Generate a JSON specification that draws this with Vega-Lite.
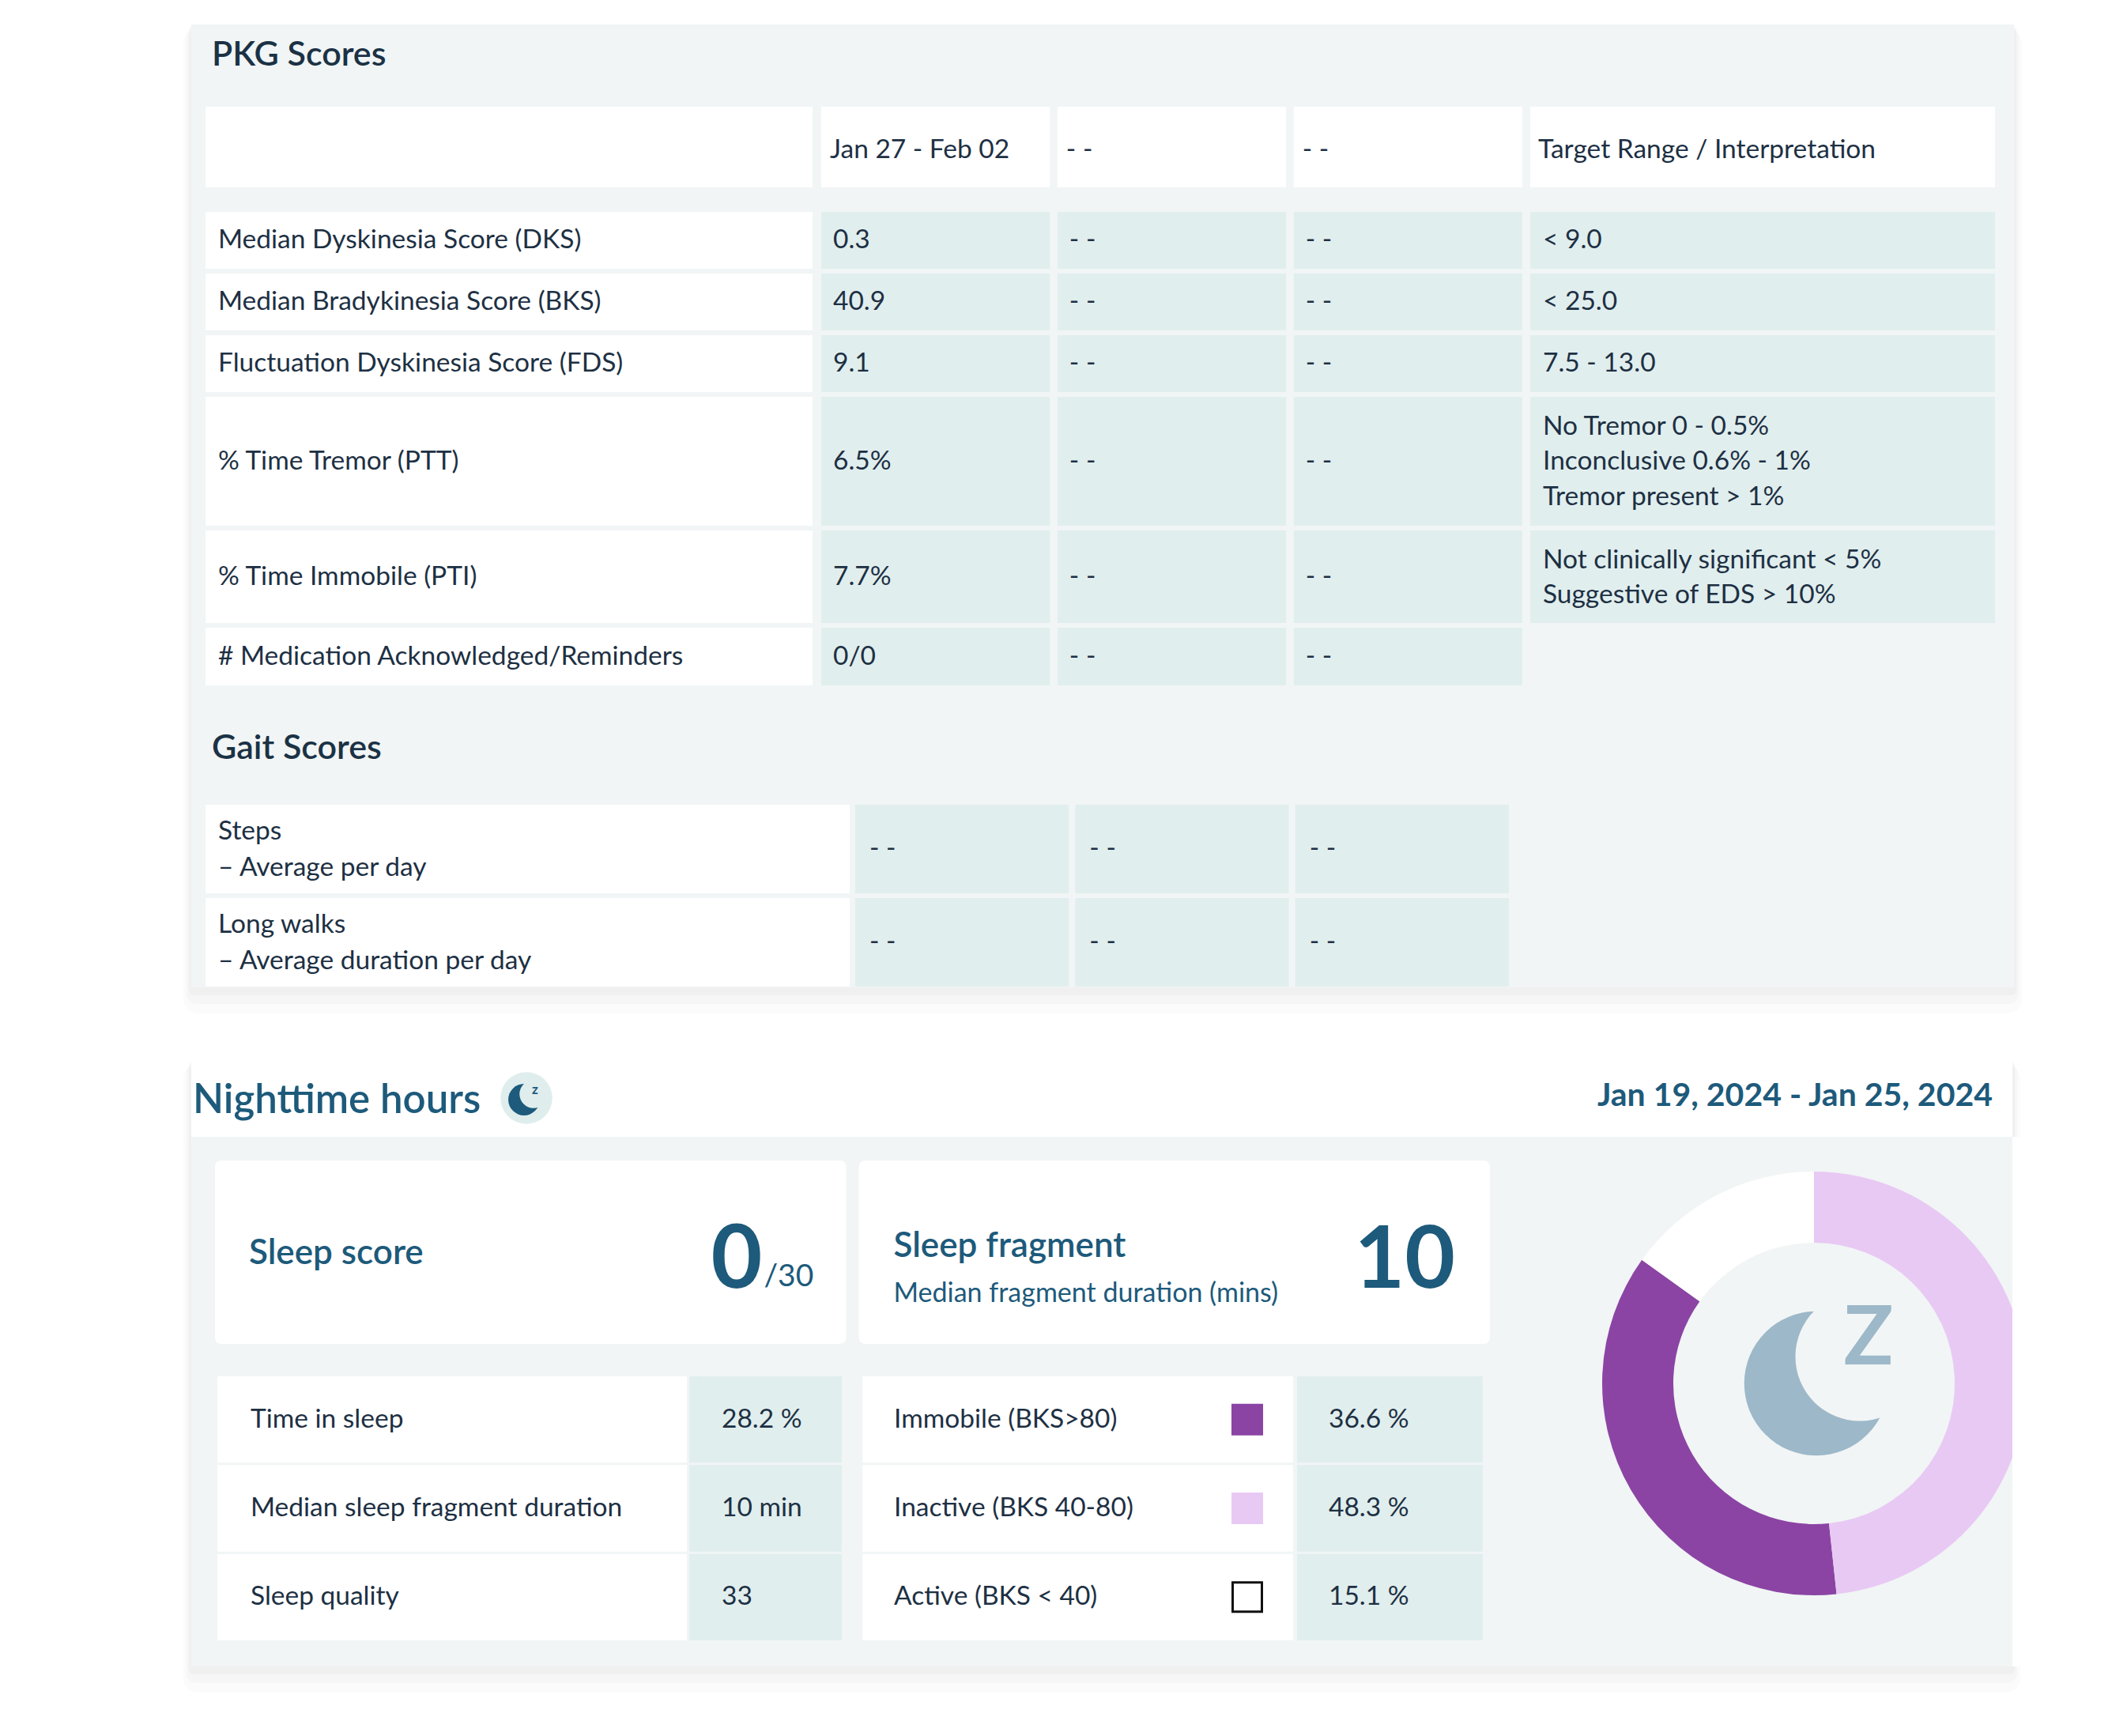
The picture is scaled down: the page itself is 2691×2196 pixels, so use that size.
{
  "$schema": "https://vega.github.io/schema/vega-lite/v6.json",
  "width": 2691,
  "height": 2196,
  "autosize": {"type": "none"},
  "padding": 0,
  "background": "#ffffff",
  "config": {
    "view": {"stroke": null},
    "axis": {"disable": true},
    "legend": {"disable": true},
    "font": "Lato",
    "text": {"font": "Lato", "fontSize": 33.5, "color": "#1d3043", "align": "left", "baseline": "middle"}
  },
  "datasets": {
    "cards": [
      {"card": "PKG Scores"},
      {"card": "Nighttime hours", "period": "Jan 19, 2024 - Jan 25, 2024"}
    ],
    "sections": [
      {"section": "PKG Scores"},
      {"section": "Gait Scores"}
    ],
    "pkgHeader": [
      {"row": "header", "column": "label", "text": ""},
      {"row": "header", "column": "p1", "text": "Jan 27 - Feb 02"},
      {"row": "header", "column": "p2", "text": "- -"},
      {"row": "header", "column": "p3", "text": "- -"},
      {"row": "header", "column": "target", "text": "Target Range / Interpretation"}
    ],
    "pkgRows": [
      {"table": "PKG Scores", "metric": "Median Dyskinesia Score (DKS)", "target": "< 9.0"},
      {"table": "PKG Scores", "metric": "Median Bradykinesia Score (BKS)", "target": "< 25.0"},
      {"table": "PKG Scores", "metric": "Fluctuation Dyskinesia Score (FDS)", "target": "7.5 - 13.0"},
      {"table": "PKG Scores", "metric": "% Time Tremor (PTT)", "target": "No Tremor 0 - 0.5%\nInconclusive 0.6% - 1%\nTremor present > 1%"},
      {"table": "PKG Scores", "metric": "% Time Immobile (PTI)", "target": "Not clinically significant < 5%\nSuggestive of EDS > 10%"},
      {"table": "PKG Scores", "metric": "# Medication Acknowledged/Reminders", "target": ""}
    ],
    "pkgValues": [
      {"metric": "Median Dyskinesia Score (DKS)", "column": "p1", "value": "0.3"},
      {"metric": "Median Dyskinesia Score (DKS)", "column": "p2", "value": "- -"},
      {"metric": "Median Dyskinesia Score (DKS)", "column": "p3", "value": "- -"},
      {"metric": "Median Bradykinesia Score (BKS)", "column": "p1", "value": "40.9"},
      {"metric": "Median Bradykinesia Score (BKS)", "column": "p2", "value": "- -"},
      {"metric": "Median Bradykinesia Score (BKS)", "column": "p3", "value": "- -"},
      {"metric": "Fluctuation Dyskinesia Score (FDS)", "column": "p1", "value": "9.1"},
      {"metric": "Fluctuation Dyskinesia Score (FDS)", "column": "p2", "value": "- -"},
      {"metric": "Fluctuation Dyskinesia Score (FDS)", "column": "p3", "value": "- -"},
      {"metric": "% Time Tremor (PTT)", "column": "p1", "value": "6.5%"},
      {"metric": "% Time Tremor (PTT)", "column": "p2", "value": "- -"},
      {"metric": "% Time Tremor (PTT)", "column": "p3", "value": "- -"},
      {"metric": "% Time Immobile (PTI)", "column": "p1", "value": "7.7%"},
      {"metric": "% Time Immobile (PTI)", "column": "p2", "value": "- -"},
      {"metric": "% Time Immobile (PTI)", "column": "p3", "value": "- -"},
      {"metric": "# Medication Acknowledged/Reminders", "column": "p1", "value": "0/0"},
      {"metric": "# Medication Acknowledged/Reminders", "column": "p2", "value": "- -"},
      {"metric": "# Medication Acknowledged/Reminders", "column": "p3", "value": "- -"}
    ],
    "gaitRows": [
      {"table": "Gait Scores", "metric": "Steps\n– Average per day"},
      {"table": "Gait Scores", "metric": "Long walks\n– Average duration per day"}
    ],
    "gaitValues": [
      {"metric": "Steps\n– Average per day", "column": "p1", "value": "- -"},
      {"metric": "Steps\n– Average per day", "column": "p2", "value": "- -"},
      {"metric": "Steps\n– Average per day", "column": "p3", "value": "- -"},
      {"metric": "Long walks\n– Average duration per day", "column": "p1", "value": "- -"},
      {"metric": "Long walks\n– Average duration per day", "column": "p2", "value": "- -"},
      {"metric": "Long walks\n– Average duration per day", "column": "p3", "value": "- -"}
    ],
    "kpis": [
      {"panel": "summary", "kpi": "Sleep score", "value": "0", "outOf": "/30"},
      {"panel": "summary", "kpi": "Sleep fragment", "note": "Median fragment duration (mins)", "value": "10"}
    ],
    "sleep": [
      {"table": "Sleep", "measure": "Time in sleep", "value": "28.2 %"},
      {"table": "Sleep", "measure": "Median sleep fragment duration", "value": "10 min"},
      {"table": "Sleep", "measure": "Sleep quality", "value": "33"}
    ],
    "bks": [
      {"table": "BKS", "state": "Immobile (BKS>80)", "share": 36.6, "shown": "36.6 %"},
      {"table": "BKS", "state": "Inactive (BKS 40-80)", "share": 48.3, "shown": "48.3 %"},
      {"table": "BKS", "state": "Active (BKS < 40)", "share": 15.1, "shown": "15.1 %"}
    ]
  },
  "resolve": {"scale": {"x": "independent", "y": "independent", "color": "independent", "stroke": "independent", "theta": "independent"}},
  "layer": [
    {
      "data": {"name": "cards"},
      "transform": [{"filter": "datum.card == 'PKG Scores'"}],
      "mark": {"type": "rect", "color": "#000000", "opacity": 0.014, "cornerRadius": 18},
      "encoding": {
        "x": {"field": "card", "type": "nominal", "scale": {"type": "band", "range": [232, 2558], "paddingInner": 0, "paddingOuter": 0}},
        "y": {"field": "card", "type": "nominal", "scale": {"type": "band", "range": [37, 1282], "paddingInner": 0, "paddingOuter": 0}}
      }
    },
    {
      "data": {"name": "cards"},
      "transform": [{"filter": "datum.card == 'PKG Scores'"}],
      "mark": {"type": "rect", "color": "#000000", "opacity": 0.018, "cornerRadius": 12},
      "encoding": {
        "x": {"field": "card", "type": "nominal", "scale": {"type": "band", "range": [236, 2554], "paddingInner": 0, "paddingOuter": 0}},
        "y": {"field": "card", "type": "nominal", "scale": {"type": "band", "range": [34, 1270], "paddingInner": 0, "paddingOuter": 0}}
      }
    },
    {
      "data": {"name": "cards"},
      "transform": [{"filter": "datum.card == 'PKG Scores'"}],
      "mark": {"type": "rect", "color": "#000000", "opacity": 0.022, "cornerRadius": 6},
      "encoding": {
        "x": {"field": "card", "type": "nominal", "scale": {"type": "band", "range": [239, 2551], "paddingInner": 0, "paddingOuter": 0}},
        "y": {"field": "card", "type": "nominal", "scale": {"type": "band", "range": [32, 1259], "paddingInner": 0, "paddingOuter": 0}}
      }
    },
    {
      "data": {"name": "cards"},
      "transform": [{"filter": "datum.card == 'Nighttime hours'"}],
      "mark": {"type": "rect", "color": "#000000", "opacity": 0.014, "cornerRadius": 18},
      "encoding": {
        "x": {"field": "card", "type": "nominal", "scale": {"type": "band", "range": [232, 2556], "paddingInner": 0, "paddingOuter": 0}},
        "y": {"field": "card", "type": "nominal", "scale": {"type": "band", "range": [1347, 2141], "paddingInner": 0, "paddingOuter": 0}}
      }
    },
    {
      "data": {"name": "cards"},
      "transform": [{"filter": "datum.card == 'Nighttime hours'"}],
      "mark": {"type": "rect", "color": "#000000", "opacity": 0.018, "cornerRadius": 12},
      "encoding": {
        "x": {"field": "card", "type": "nominal", "scale": {"type": "band", "range": [236, 2552], "paddingInner": 0, "paddingOuter": 0}},
        "y": {"field": "card", "type": "nominal", "scale": {"type": "band", "range": [1344, 2129], "paddingInner": 0, "paddingOuter": 0}}
      }
    },
    {
      "data": {"name": "cards"},
      "transform": [{"filter": "datum.card == 'Nighttime hours'"}],
      "mark": {"type": "rect", "color": "#000000", "opacity": 0.022, "cornerRadius": 6},
      "encoding": {
        "x": {"field": "card", "type": "nominal", "scale": {"type": "band", "range": [239, 2549], "paddingInner": 0, "paddingOuter": 0}},
        "y": {"field": "card", "type": "nominal", "scale": {"type": "band", "range": [1342, 2118], "paddingInner": 0, "paddingOuter": 0}}
      }
    },
    {
      "data": {"name": "cards"},
      "transform": [{"filter": "datum.card == 'PKG Scores'"}],
      "mark": {"type": "rect", "color": "#f1f5f5"},
      "encoding": {
        "x": {"field": "card", "type": "nominal", "scale": {"type": "band", "range": [242, 2548], "paddingInner": 0, "paddingOuter": 0}},
        "y": {"field": "card", "type": "nominal", "scale": {"type": "band", "range": [31, 1249], "paddingInner": 0, "paddingOuter": 0}}
      }
    },
    {
      "data": {"name": "cards"},
      "transform": [{"filter": "datum.card == 'Nighttime hours'"}],
      "mark": {"type": "rect", "color": "#ffffff"},
      "encoding": {
        "x": {"field": "card", "type": "nominal", "scale": {"type": "band", "range": [242, 2546], "paddingInner": 0, "paddingOuter": 0}},
        "y": {"field": "card", "type": "nominal", "scale": {"type": "band", "range": [1341, 2108], "paddingInner": 0, "paddingOuter": 0}}
      }
    },
    {
      "data": {"name": "cards"},
      "transform": [{"filter": "datum.card == 'Nighttime hours'"}],
      "mark": {"type": "rect", "color": "#f1f5f5"},
      "encoding": {
        "x": {"field": "card", "type": "nominal", "scale": {"type": "band", "range": [242, 2546], "paddingInner": 0, "paddingOuter": 0}},
        "y": {"field": "card", "type": "nominal", "scale": {"type": "band", "range": [1438, 2108], "paddingInner": 0, "paddingOuter": 0}}
      }
    },
    {
      "data": {"name": "sections"},
      "mark": {"type": "text", "fontSize": 43, "fontWeight": 600, "color": "#1b3245", "baseline": "alphabetic"},
      "encoding": {
        "x": {"field": "section", "type": "nominal", "scale": {"type": "point", "range": [268, 268], "padding": 0}},
        "y": {"field": "section", "type": "nominal", "sort": null, "scale": {"type": "point", "range": [83, 960], "padding": 0}},
        "text": {"field": "section"}
      }
    },
    {
      "data": {"name": "pkgHeader"},
      "transform": [{"filter": "datum.column == 'label'"}],
      "mark": {"type": "rect", "color": "#ffffff"},
      "encoding": {
        "x": {"field": "column", "type": "nominal", "scale": {"type": "band", "range": [260, 1028], "paddingInner": 0, "paddingOuter": 0}},
        "y": {"field": "row", "type": "nominal", "scale": {"type": "band", "range": [135, 237], "paddingInner": 0, "paddingOuter": 0}}
      }
    },
    {
      "data": {"name": "pkgHeader"},
      "transform": [{"filter": {"field": "column", "oneOf": ["p1", "p2", "p3"]}}],
      "encoding": {
        "y": {"field": "row", "type": "nominal", "scale": {"type": "band", "range": [135, 237], "paddingInner": 0, "paddingOuter": 0}}
      },
      "layer": [
        {
          "mark": {"type": "rect", "color": "#ffffff"},
          "encoding": {"x": {"field": "column", "type": "nominal", "sort": null, "scale": {"type": "band", "range": [1039, 1926], "paddingInner": 0.032, "paddingOuter": 0}}}
        },
        {
          "mark": {"type": "text", "dx": 11, "dy": 4},
          "encoding": {
            "x": {"field": "column", "type": "nominal", "sort": null, "bandPosition": 0, "scale": {"type": "band", "range": [1039, 1926], "paddingInner": 0.032, "paddingOuter": 0}},
            "text": {"field": "text"}
          }
        }
      ]
    },
    {
      "data": {"name": "pkgHeader"},
      "transform": [{"filter": "datum.column == 'target'"}],
      "encoding": {
        "y": {"field": "row", "type": "nominal", "scale": {"type": "band", "range": [135, 237], "paddingInner": 0, "paddingOuter": 0}}
      },
      "layer": [
        {
          "mark": {"type": "rect", "color": "#ffffff"},
          "encoding": {"x": {"field": "column", "type": "nominal", "scale": {"type": "band", "range": [1936, 2524], "paddingInner": 0, "paddingOuter": 0}}}
        },
        {
          "mark": {"type": "text", "dx": 10, "dy": 4},
          "encoding": {
            "x": {"field": "column", "type": "nominal", "bandPosition": 0, "scale": {"type": "band", "range": [1936, 2524], "paddingInner": 0, "paddingOuter": 0}},
            "text": {"field": "text"}
          }
        }
      ]
    },
    {
      "data": {"name": "pkgRows"},
      "transform": [{"filter": {"field": "metric", "oneOf": ["Median Dyskinesia Score (DKS)", "Median Bradykinesia Score (BKS)", "Fluctuation Dyskinesia Score (FDS)"]}}],
      "encoding": {
        "y": {"field": "metric", "type": "nominal", "sort": null, "scale": {"type": "band", "range": [268, 496], "paddingInner": 0.077, "paddingOuter": 0}}
      },
      "layer": [
        {
          "mark": {"type": "rect", "color": "#ffffff"},
          "encoding": {"x": {"field": "table", "type": "nominal", "scale": {"type": "band", "range": [260, 1028], "paddingInner": 0, "paddingOuter": 0}}}
        },
        {
          "mark": {"type": "text", "dx": 16},
          "encoding": {
            "x": {"field": "table", "type": "nominal", "bandPosition": 0, "scale": {"type": "band", "range": [260, 1028], "paddingInner": 0, "paddingOuter": 0}},
            "text": {"field": "metric"}
          }
        },
        {
          "mark": {"type": "rect", "color": "#e1eeee"},
          "encoding": {"x": {"field": "table", "type": "nominal", "scale": {"type": "band", "range": [1936, 2524], "paddingInner": 0, "paddingOuter": 0}}}
        },
        {
          "mark": {"type": "text", "dx": 16},
          "encoding": {
            "x": {"field": "table", "type": "nominal", "bandPosition": 0, "scale": {"type": "band", "range": [1936, 2524], "paddingInner": 0, "paddingOuter": 0}},
            "text": {"field": "target"}
          }
        }
      ],
      "resolve": {"scale": {"x": "independent"}}
    },
    {
      "data": {"name": "pkgValues"},
      "transform": [{"filter": {"field": "metric", "oneOf": ["Median Dyskinesia Score (DKS)", "Median Bradykinesia Score (BKS)", "Fluctuation Dyskinesia Score (FDS)"]}}],
      "encoding": {
        "y": {"field": "metric", "type": "nominal", "sort": null, "scale": {"type": "band", "range": [268, 496], "paddingInner": 0.077, "paddingOuter": 0}},
        "x": {"field": "column", "type": "nominal", "sort": null, "scale": {"type": "band", "range": [1039, 1926], "paddingInner": 0.032, "paddingOuter": 0}}
      },
      "layer": [
        {"mark": {"type": "rect", "color": "#e1eeee"}},
        {
          "mark": {"type": "text", "dx": 15},
          "encoding": {
            "x": {"field": "column", "type": "nominal", "sort": null, "bandPosition": 0, "scale": {"type": "band", "range": [1039, 1926], "paddingInner": 0.032, "paddingOuter": 0}},
            "text": {"field": "value"}
          }
        }
      ]
    },
    {
      "data": {"name": "pkgRows"},
      "transform": [{"filter": {"field": "metric", "equal": "% Time Tremor (PTT)"}}],
      "encoding": {
        "y": {"field": "metric", "type": "nominal", "scale": {"type": "band", "range": [502, 665], "paddingInner": 0, "paddingOuter": 0}}
      },
      "layer": [
        {
          "mark": {"type": "rect", "color": "#ffffff"},
          "encoding": {"x": {"field": "table", "type": "nominal", "scale": {"type": "band", "range": [260, 1028], "paddingInner": 0, "paddingOuter": 0}}}
        },
        {
          "mark": {"type": "text", "dx": 16},
          "encoding": {
            "x": {"field": "table", "type": "nominal", "bandPosition": 0, "scale": {"type": "band", "range": [260, 1028], "paddingInner": 0, "paddingOuter": 0}},
            "text": {"field": "metric"}
          }
        },
        {
          "mark": {"type": "rect", "color": "#e1eeee"},
          "encoding": {"x": {"field": "table", "type": "nominal", "scale": {"type": "band", "range": [1936, 2524], "paddingInner": 0, "paddingOuter": 0}}}
        },
        {
          "mark": {"type": "text", "dx": 16, "dy": -44, "lineBreak": "\n", "lineHeight": 44.5},
          "encoding": {
            "x": {"field": "table", "type": "nominal", "bandPosition": 0, "scale": {"type": "band", "range": [1936, 2524], "paddingInner": 0, "paddingOuter": 0}},
            "text": {"field": "target"}
          }
        }
      ],
      "resolve": {"scale": {"x": "independent"}}
    },
    {
      "data": {"name": "pkgValues"},
      "transform": [{"filter": {"field": "metric", "equal": "% Time Tremor (PTT)"}}],
      "encoding": {
        "y": {"field": "metric", "type": "nominal", "scale": {"type": "band", "range": [502, 665], "paddingInner": 0, "paddingOuter": 0}},
        "x": {"field": "column", "type": "nominal", "sort": null, "scale": {"type": "band", "range": [1039, 1926], "paddingInner": 0.032, "paddingOuter": 0}}
      },
      "layer": [
        {"mark": {"type": "rect", "color": "#e1eeee"}},
        {
          "mark": {"type": "text", "dx": 15},
          "encoding": {
            "x": {"field": "column", "type": "nominal", "sort": null, "bandPosition": 0, "scale": {"type": "band", "range": [1039, 1926], "paddingInner": 0.032, "paddingOuter": 0}},
            "text": {"field": "value"}
          }
        }
      ]
    },
    {
      "data": {"name": "pkgRows"},
      "transform": [{"filter": {"field": "metric", "equal": "% Time Immobile (PTI)"}}],
      "encoding": {
        "y": {"field": "metric", "type": "nominal", "scale": {"type": "band", "range": [671, 788], "paddingInner": 0, "paddingOuter": 0}}
      },
      "layer": [
        {
          "mark": {"type": "rect", "color": "#ffffff"},
          "encoding": {"x": {"field": "table", "type": "nominal", "scale": {"type": "band", "range": [260, 1028], "paddingInner": 0, "paddingOuter": 0}}}
        },
        {
          "mark": {"type": "text", "dx": 16},
          "encoding": {
            "x": {"field": "table", "type": "nominal", "bandPosition": 0, "scale": {"type": "band", "range": [260, 1028], "paddingInner": 0, "paddingOuter": 0}},
            "text": {"field": "metric"}
          }
        },
        {
          "mark": {"type": "rect", "color": "#e1eeee"},
          "encoding": {"x": {"field": "table", "type": "nominal", "scale": {"type": "band", "range": [1936, 2524], "paddingInner": 0, "paddingOuter": 0}}}
        },
        {
          "mark": {"type": "text", "dx": 16, "dy": -21, "lineBreak": "\n", "lineHeight": 44.5},
          "encoding": {
            "x": {"field": "table", "type": "nominal", "bandPosition": 0, "scale": {"type": "band", "range": [1936, 2524], "paddingInner": 0, "paddingOuter": 0}},
            "text": {"field": "target"}
          }
        }
      ],
      "resolve": {"scale": {"x": "independent"}}
    },
    {
      "data": {"name": "pkgValues"},
      "transform": [{"filter": {"field": "metric", "equal": "% Time Immobile (PTI)"}}],
      "encoding": {
        "y": {"field": "metric", "type": "nominal", "scale": {"type": "band", "range": [671, 788], "paddingInner": 0, "paddingOuter": 0}},
        "x": {"field": "column", "type": "nominal", "sort": null, "scale": {"type": "band", "range": [1039, 1926], "paddingInner": 0.032, "paddingOuter": 0}}
      },
      "layer": [
        {"mark": {"type": "rect", "color": "#e1eeee"}},
        {
          "mark": {"type": "text", "dx": 15},
          "encoding": {
            "x": {"field": "column", "type": "nominal", "sort": null, "bandPosition": 0, "scale": {"type": "band", "range": [1039, 1926], "paddingInner": 0.032, "paddingOuter": 0}},
            "text": {"field": "value"}
          }
        }
      ]
    },
    {
      "data": {"name": "pkgRows"},
      "transform": [{"filter": {"field": "metric", "equal": "# Medication Acknowledged/Reminders"}}],
      "encoding": {
        "y": {"field": "metric", "type": "nominal", "scale": {"type": "band", "range": [794, 867], "paddingInner": 0, "paddingOuter": 0}},
        "x": {"field": "table", "type": "nominal", "scale": {"type": "band", "range": [260, 1028], "paddingInner": 0, "paddingOuter": 0}}
      },
      "layer": [
        {"mark": {"type": "rect", "color": "#ffffff"}},
        {
          "mark": {"type": "text", "dx": 16},
          "encoding": {
            "x": {"field": "table", "type": "nominal", "bandPosition": 0, "scale": {"type": "band", "range": [260, 1028], "paddingInner": 0, "paddingOuter": 0}},
            "text": {"field": "metric"}
          }
        }
      ]
    },
    {
      "data": {"name": "pkgValues"},
      "transform": [{"filter": {"field": "metric", "equal": "# Medication Acknowledged/Reminders"}}],
      "encoding": {
        "y": {"field": "metric", "type": "nominal", "scale": {"type": "band", "range": [794, 867], "paddingInner": 0, "paddingOuter": 0}},
        "x": {"field": "column", "type": "nominal", "sort": null, "scale": {"type": "band", "range": [1039, 1926], "paddingInner": 0.032, "paddingOuter": 0}}
      },
      "layer": [
        {"mark": {"type": "rect", "color": "#e1eeee"}},
        {
          "mark": {"type": "text", "dx": 15},
          "encoding": {
            "x": {"field": "column", "type": "nominal", "sort": null, "bandPosition": 0, "scale": {"type": "band", "range": [1039, 1926], "paddingInner": 0.032, "paddingOuter": 0}},
            "text": {"field": "value"}
          }
        }
      ]
    },
    {
      "data": {"name": "gaitRows"},
      "encoding": {
        "y": {"field": "metric", "type": "nominal", "sort": null, "scale": {"type": "band", "range": [1018, 1248], "paddingInner": 0.051, "paddingOuter": 0}},
        "x": {"field": "table", "type": "nominal", "scale": {"type": "band", "range": [260, 1075], "paddingInner": 0, "paddingOuter": 0}}
      },
      "layer": [
        {"mark": {"type": "rect", "color": "#ffffff"}},
        {
          "mark": {"type": "text", "dx": 16, "dy": -22, "lineBreak": "\n", "lineHeight": 46},
          "encoding": {
            "x": {"field": "table", "type": "nominal", "bandPosition": 0, "scale": {"type": "band", "range": [260, 1075], "paddingInner": 0, "paddingOuter": 0}},
            "text": {"field": "metric"}
          }
        }
      ]
    },
    {
      "data": {"name": "gaitValues"},
      "encoding": {
        "y": {"field": "metric", "type": "nominal", "sort": null, "scale": {"type": "band", "range": [1018, 1248], "paddingInner": 0.051, "paddingOuter": 0}},
        "x": {"field": "column", "type": "nominal", "sort": null, "scale": {"type": "band", "range": [1082, 1909], "paddingInner": 0.029, "paddingOuter": 0}}
      },
      "layer": [
        {"mark": {"type": "rect", "color": "#e1eeee"}},
        {
          "mark": {"type": "text", "dx": 18},
          "encoding": {
            "x": {"field": "column", "type": "nominal", "sort": null, "bandPosition": 0, "scale": {"type": "band", "range": [1082, 1909], "paddingInner": 0.029, "paddingOuter": 0}},
            "text": {"field": "value"}
          }
        }
      ]
    },
    {
      "data": {"name": "cards"},
      "transform": [{"filter": "datum.card == 'Nighttime hours'"}],
      "mark": {"type": "text", "fontSize": 51, "fontWeight": 600, "color": "#1d5a7b", "baseline": "alphabetic"},
      "encoding": {
        "x": {"field": "card", "type": "nominal", "scale": {"type": "point", "range": [244, 244], "padding": 0}},
        "y": {"field": "card", "type": "nominal", "scale": {"type": "point", "range": [1408, 1408], "padding": 0}},
        "text": {"field": "card"}
      }
    },
    {
      "data": {"name": "cards"},
      "transform": [{"filter": "datum.card == 'Nighttime hours'"}],
      "mark": {"type": "text", "fontSize": 41, "fontWeight": 700, "color": "#1d5a7b", "baseline": "alphabetic", "align": "right"},
      "encoding": {
        "x": {"field": "card", "type": "nominal", "scale": {"type": "point", "range": [2521, 2521], "padding": 0}},
        "y": {"field": "card", "type": "nominal", "scale": {"type": "point", "range": [1399, 1399], "padding": 0}},
        "text": {"field": "period"}
      }
    },
    {
      "data": {"name": "cards"},
      "transform": [{"filter": "datum.card == 'Nighttime hours'"}],
      "encoding": {
        "x": {"field": "card", "type": "nominal", "scale": {"type": "point", "range": [666, 666], "padding": 0}},
        "y": {"field": "card", "type": "nominal", "scale": {"type": "point", "range": [1389, 1389], "padding": 0}}
      },
      "layer": [
        {"mark": {"type": "point", "shape": "circle", "filled": true, "opacity": 1, "size": 4301, "color": "#dfeded"}},
        {"mark": {"type": "point", "shape": "circle", "filled": true, "opacity": 1, "size": 1590, "color": "#1d5a7b", "xOffset": -3, "yOffset": 2}},
        {"mark": {"type": "point", "shape": "circle", "filled": true, "opacity": 1, "size": 1257, "color": "#dfeded", "xOffset": 9, "yOffset": -5}},
        {"mark": {"type": "text", "text": "z", "fontSize": 17, "fontWeight": 700, "color": "#1d5a7b", "align": "center", "dx": 11, "dy": -10}}
      ]
    },
    {
      "data": {"name": "kpis"},
      "encoding": {
        "y": {"field": "panel", "type": "nominal", "scale": {"type": "band", "range": [1468, 1700], "paddingInner": 0, "paddingOuter": 0}}
      },
      "layer": [
        {
          "mark": {"type": "rect", "color": "#ffffff", "cornerRadius": 8},
          "encoding": {"x": {"field": "kpi", "type": "nominal", "scale": {"type": "band", "domain": ["Sleep score", "Sleep fragment"], "range": [272, 1885], "paddingInner": 0.0197, "paddingOuter": 0}}}
        },
        {
          "transform": [{"filter": "datum.kpi == 'Sleep score'"}],
          "mark": {"type": "text", "dx": 43, "dy": 2, "fontSize": 44, "fontWeight": 600, "color": "#1d5a7b"},
          "encoding": {
            "x": {"field": "kpi", "type": "nominal", "bandPosition": 0, "scale": {"type": "band", "domain": ["Sleep score", "Sleep fragment"], "range": [272, 1885], "paddingInner": 0.0197, "paddingOuter": 0}},
            "text": {"field": "kpi"}
          }
        },
        {
          "transform": [{"filter": "datum.kpi == 'Sleep fragment'"}],
          "mark": {"type": "text", "dx": 44, "dy": -7, "fontSize": 44, "fontWeight": 600, "color": "#1d5a7b"},
          "encoding": {
            "x": {"field": "kpi", "type": "nominal", "bandPosition": 0, "scale": {"type": "band", "domain": ["Sleep score", "Sleep fragment"], "range": [272, 1885], "paddingInner": 0.0197, "paddingOuter": 0}},
            "text": {"field": "kpi"}
          }
        },
        {
          "transform": [{"filter": "datum.kpi == 'Sleep fragment'"}],
          "mark": {"type": "text", "dx": 44, "dy": 53, "fontSize": 34, "color": "#1d5a7b"},
          "encoding": {
            "x": {"field": "kpi", "type": "nominal", "bandPosition": 0, "scale": {"type": "band", "domain": ["Sleep score", "Sleep fragment"], "range": [272, 1885], "paddingInner": 0.0197, "paddingOuter": 0}},
            "text": {"field": "note"}
          }
        },
        {
          "transform": [{"filter": "datum.kpi == 'Sleep score'"}],
          "mark": {"type": "text", "align": "right", "baseline": "alphabetic", "dx": -106, "dy": 45, "fontSize": 112, "fontWeight": 700, "color": "#1d5a7b"},
          "encoding": {
            "x": {"field": "kpi", "type": "nominal", "bandPosition": 1, "scale": {"type": "band", "domain": ["Sleep score", "Sleep fragment"], "range": [272, 1885], "paddingInner": 0.0197, "paddingOuter": 0}},
            "text": {"field": "value"}
          }
        },
        {
          "transform": [{"filter": "datum.kpi == 'Sleep score'"}],
          "mark": {"type": "text", "align": "left", "baseline": "alphabetic", "dx": -104, "dy": 43, "fontSize": 39, "color": "#1d5a7b"},
          "encoding": {
            "x": {"field": "kpi", "type": "nominal", "bandPosition": 1, "scale": {"type": "band", "domain": ["Sleep score", "Sleep fragment"], "range": [272, 1885], "paddingInner": 0.0197, "paddingOuter": 0}},
            "text": {"field": "outOf"}
          }
        },
        {
          "transform": [{"filter": "datum.kpi == 'Sleep fragment'"}],
          "mark": {"type": "text", "align": "right", "baseline": "alphabetic", "dx": -44, "dy": 45, "fontSize": 110, "fontWeight": 700, "color": "#1d5a7b"},
          "encoding": {
            "x": {"field": "kpi", "type": "nominal", "bandPosition": 1, "scale": {"type": "band", "domain": ["Sleep score", "Sleep fragment"], "range": [272, 1885], "paddingInner": 0.0197, "paddingOuter": 0}},
            "text": {"field": "value"}
          }
        }
      ]
    },
    {
      "data": {"name": "sleep"},
      "encoding": {
        "y": {"field": "measure", "type": "nominal", "sort": null, "scale": {"type": "band", "range": [1741, 2075], "paddingInner": 0.027, "paddingOuter": 0}}
      },
      "layer": [
        {
          "mark": {"type": "rect", "color": "#ffffff"},
          "encoding": {"x": {"field": "table", "type": "nominal", "scale": {"type": "band", "range": [275, 869], "paddingInner": 0, "paddingOuter": 0}}}
        },
        {
          "mark": {"type": "text", "dx": 42},
          "encoding": {
            "x": {"field": "table", "type": "nominal", "bandPosition": 0, "scale": {"type": "band", "range": [275, 869], "paddingInner": 0, "paddingOuter": 0}},
            "text": {"field": "measure"}
          }
        },
        {
          "mark": {"type": "rect", "color": "#e1eeee"},
          "encoding": {"x": {"field": "table", "type": "nominal", "scale": {"type": "band", "range": [872, 1065], "paddingInner": 0, "paddingOuter": 0}}}
        },
        {
          "mark": {"type": "text", "dx": 41},
          "encoding": {
            "x": {"field": "table", "type": "nominal", "bandPosition": 0, "scale": {"type": "band", "range": [872, 1065], "paddingInner": 0, "paddingOuter": 0}},
            "text": {"field": "value"}
          }
        }
      ],
      "resolve": {"scale": {"x": "independent"}}
    },
    {
      "data": {"name": "bks"},
      "encoding": {
        "y": {"field": "state", "type": "nominal", "sort": null, "scale": {"type": "band", "range": [1741, 2075], "paddingInner": 0.027, "paddingOuter": 0}}
      },
      "layer": [
        {
          "mark": {"type": "rect", "color": "#ffffff"},
          "encoding": {"x": {"field": "table", "type": "nominal", "scale": {"type": "band", "range": [1091, 1636], "paddingInner": 0, "paddingOuter": 0}}}
        },
        {
          "mark": {"type": "text", "dx": 40},
          "encoding": {
            "x": {"field": "table", "type": "nominal", "bandPosition": 0, "scale": {"type": "band", "range": [1091, 1636], "paddingInner": 0, "paddingOuter": 0}},
            "text": {"field": "state"}
          }
        },
        {
          "mark": {"type": "rect", "color": "#e1eeee"},
          "encoding": {"x": {"field": "table", "type": "nominal", "scale": {"type": "band", "range": [1641, 1876], "paddingInner": 0, "paddingOuter": 0}}}
        },
        {
          "mark": {"type": "text", "dx": 40},
          "encoding": {
            "x": {"field": "table", "type": "nominal", "bandPosition": 0, "scale": {"type": "band", "range": [1641, 1876], "paddingInner": 0, "paddingOuter": 0}},
            "text": {"field": "shown"}
          }
        },
        {
          "mark": {"type": "point", "shape": "square", "size": 1369, "filled": true, "opacity": 1, "strokeWidth": 3},
          "encoding": {
            "x": {"field": "table", "type": "nominal", "scale": {"type": "point", "range": [1578, 1578], "padding": 0}},
            "color": {"field": "state", "type": "nominal", "scale": {"domain": ["Immobile (BKS>80)", "Inactive (BKS 40-80)", "Active (BKS < 40)"], "range": ["#8b44a4", "#e8c9f4", "#ffffff"]}, "legend": null},
            "stroke": {"field": "state", "type": "nominal", "scale": {"domain": ["Immobile (BKS>80)", "Inactive (BKS 40-80)", "Active (BKS < 40)"], "range": ["#8b44a4", "#e8c9f4", "#111111"]}, "legend": null}
          }
        }
      ],
      "resolve": {"scale": {"x": "independent"}}
    },
    {
      "data": {"name": "bks"},
      "mark": {"type": "arc", "outerRadius": 268, "innerRadius": 178},
      "encoding": {
        "x": {"field": "table", "type": "nominal", "scale": {"type": "point", "range": [2295, 2295], "padding": 0}},
        "y": {"field": "table", "type": "nominal", "scale": {"type": "point", "range": [1750, 1750], "padding": 0}},
        "theta": {"field": "share", "type": "quantitative", "stack": true},
        "order": {"field": "state", "sort": "descending"},
        "color": {"field": "state", "type": "nominal", "scale": {"domain": ["Immobile (BKS>80)", "Inactive (BKS 40-80)", "Active (BKS < 40)"], "range": ["#8b44a4", "#e8c9f4", "#ffffff"]}, "legend": null}
      }
    },
    {
      "data": {"name": "cards"},
      "transform": [{"filter": "datum.card == 'Nighttime hours'"}],
      "mark": {"type": "rect", "color": "#ffffff"},
      "encoding": {
        "x": {"field": "card", "type": "nominal", "scale": {"type": "band", "range": [2546, 2691], "paddingInner": 0, "paddingOuter": 0}},
        "y": {"field": "card", "type": "nominal", "scale": {"type": "band", "range": [1438, 2108], "paddingInner": 0, "paddingOuter": 0}}
      }
    },
    {
      "data": {"name": "cards"},
      "transform": [{"filter": "datum.card == 'Nighttime hours'"}],
      "encoding": {
        "x": {"field": "card", "type": "nominal", "scale": {"type": "point", "range": [2295, 2295], "padding": 0}},
        "y": {"field": "card", "type": "nominal", "scale": {"type": "point", "range": [1750, 1750], "padding": 0}}
      },
      "layer": [
        {"mark": {"type": "point", "shape": "circle", "filled": true, "opacity": 1, "size": 33329, "color": "#9db8c9", "xOffset": 3}},
        {"mark": {"type": "point", "shape": "circle", "filled": true, "opacity": 1, "size": 26590, "color": "#f1f5f5", "xOffset": 58, "yOffset": -34}},
        {"mark": {"type": "text", "text": "Z", "fontSize": 104, "fontWeight": 700, "color": "#9db8c9", "align": "center", "dx": 69, "dy": -55}}
      ]
    }
  ]
}
